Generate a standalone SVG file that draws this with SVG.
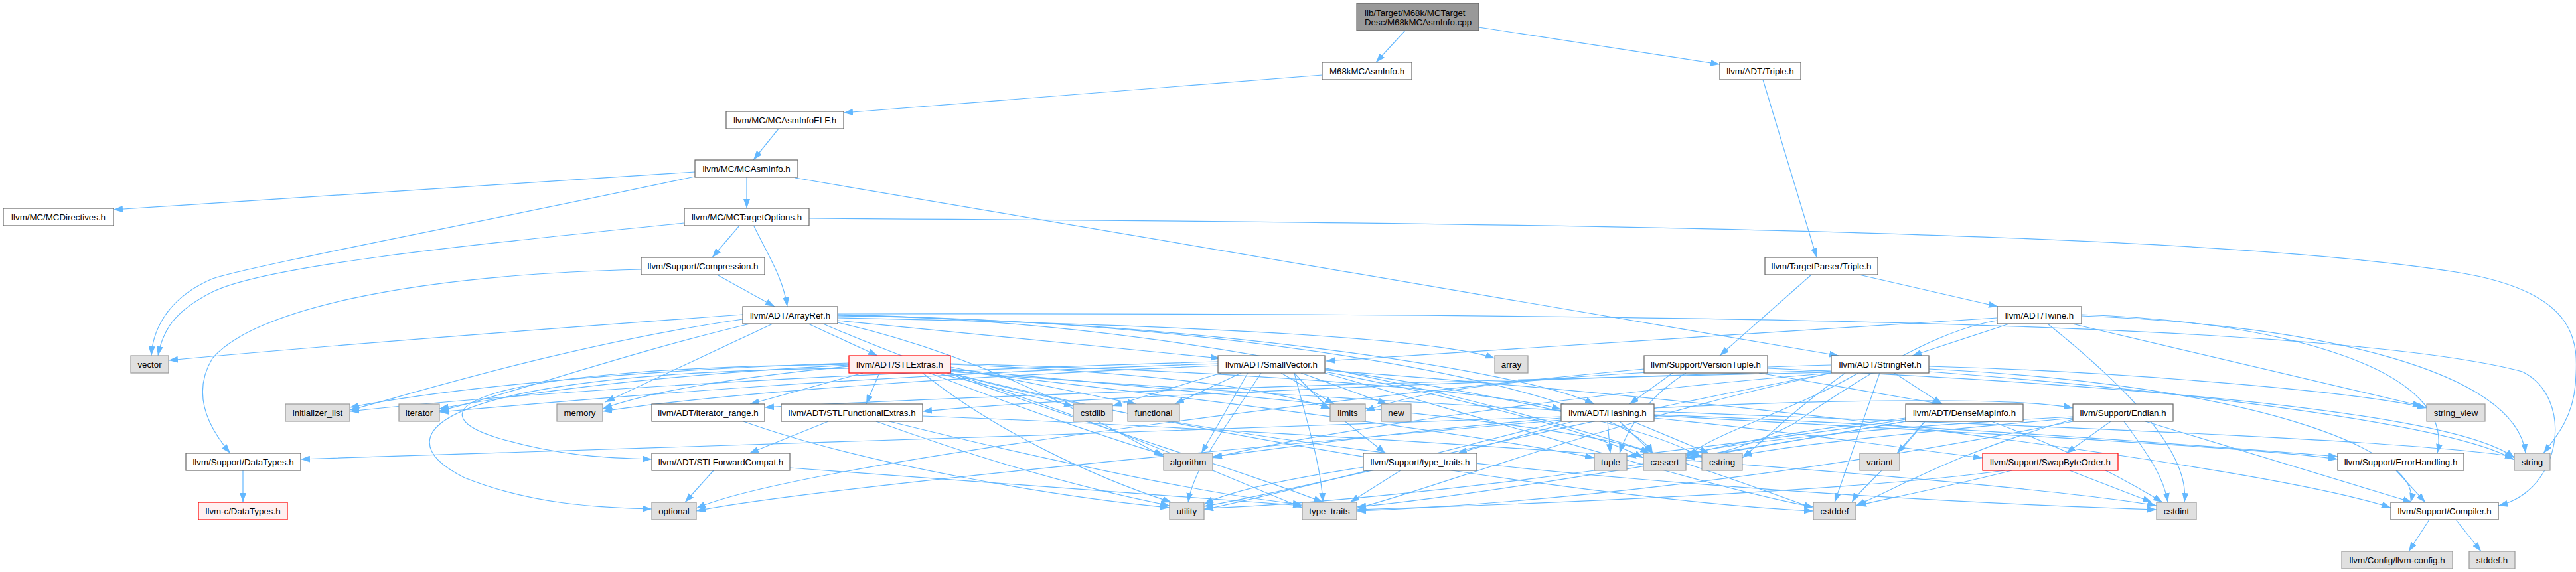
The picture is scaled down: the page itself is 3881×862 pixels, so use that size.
<svg xmlns="http://www.w3.org/2000/svg" width="3881" height="862" viewBox="0 0 3881 862">
<style>
.e{fill:none;stroke:#63b8ff;stroke-width:1.2;marker-end:url(#a)}
.n rect{fill:#ffffff;stroke:#666666;stroke-width:1.2}
.g rect{fill:#e0e0e0;stroke:#999999;stroke-width:1.2}
.r rect{fill:#fff0f0;stroke:#ff0000;stroke-width:1.2}
.k rect{fill:#999999;stroke:#666666;stroke-width:1.2}
text{font-family:"Liberation Sans",Arial,Helvetica,sans-serif;font-size:13.3px;fill:#000;text-anchor:middle}
</style>
<defs>
<marker id="a" markerUnits="userSpaceOnUse" markerWidth="14" markerHeight="10" refX="14" refY="5" orient="auto">
<path d="M0,0 L14,5 L0,10 z" fill="#63b8ff"/>
</marker>
</defs>
<rect width="3881" height="862" fill="#ffffff"/>
<g id="edges">
<path class="e" d="M2117,46 L2073,94"/>
<path class="e" d="M2228,41 L2591,97"/>
<path class="e" d="M1992,113 L1271,170"/>
<path class="e" d="M1173,194 L1135,241"/>
<path class="e" d="M1047,259 L171,316"/>
<path class="e" d="M1047,266 C700,340 380,400 320,420 C250,450 230,500 228,536"/>
<path class="e" d="M1125,267 L1125,314"/>
<path class="e" d="M1198,268 L2770,536"/>
<path class="e" d="M1031,336 C700,370 400,400 320,440 C260,470 245,500 238,536"/>
<path class="e" d="M1114,340 L1073,388"/>
<path class="e" d="M1136,341 C1160,390 1180,420 1186,462"/>
<path class="e" d="M1219,329 C2200,335 3300,345 3700,410 C3890,440 3885,520 3880,580 C3876,630 3850,660 3832,683"/>
<path class="e" d="M1082,415 L1167,462"/>
<path class="e" d="M966,406 C600,415 380,470 320,540 C290,590 310,640 347,683"/>
<path class="e" d="M2656,120 L2737,388"/>
<path class="e" d="M2729,414 L2591,536"/>
<path class="e" d="M2801,414 L3010,462"/>
<path class="e" d="M3009,479 L1998,544"/>
<path class="e" d="M3027,488 L2881,536"/>
<path class="e" d="M3122,488 L3649,612"/>
<path class="e" d="M3009,483 C2900,500 2760,600 2700,640 C2620,680 2570,688 2540,690"/>
<path class="e" d="M3085,488 C3200,580 3300,680 3291,757"/>
<path class="e" d="M3136,476 C3500,490 3790,560 3805,683"/>
<path class="e" d="M3136,474 C3450,485 3700,560 3672,683"/>
<path class="e" d="M2650,562 L2925,609"/>
<path class="e" d="M2520,562 L2455,609"/>
<path class="e" d="M2477,556 C2000,600 1200,700 1049,766"/>
<path class="e" d="M2663,555 C3200,580 3700,620 3788,690"/>
<path class="e" d="M2540,562 C2480,600 2450,650 2440,683"/>
<path class="e" d="M2854,562 L2926,609"/>
<path class="e" d="M2759,558 C2200,575 1600,600 1390,620"/>
<path class="e" d="M2759,561 C2100,575 1500,595 1152,614"/>
<path class="e" d="M2906,556 C3400,580 3650,680 3632,757"/>
<path class="e" d="M2759,562 C2300,600 1950,660 1827,690"/>
<path class="e" d="M2800,562 C2700,620 2560,660 2540,692"/>
<path class="e" d="M2832,562 L2764,757"/>
<path class="e" d="M2780,562 C2700,620 2650,670 2625,690"/>
<path class="e" d="M2759,550 C2400,560 2150,580 2057,620"/>
<path class="e" d="M2906,560 C3300,590 3700,640 3788,693"/>
<path class="e" d="M2906,552 C3200,560 3550,590 3656,615"/>
<path class="e" d="M2759,562 C2400,640 2150,740 2044,766"/>
<path class="e" d="M2759,562 C2300,650 1950,740 1814,763"/>
<path class="e" d="M1262,476 C1800,482 2300,560 2402,609"/>
<path class="e" d="M1262,483 L1838,540"/>
<path class="e" d="M1218,488 L1322,536"/>
<path class="e" d="M1262,473 C2400,472 3500,480 3800,560 C3880,600 3860,740 3764,762"/>
<path class="e" d="M1262,486 C1500,540 1680,650 1753,688"/>
<path class="e" d="M1262,479 C1700,488 2150,505 2252,540"/>
<path class="e" d="M1262,475 C1900,485 2440,590 2490,683"/>
<path class="e" d="M1262,474 C2000,490 2550,700 2732,766"/>
<path class="e" d="M1119,481 C850,520 600,600 527,618"/>
<path class="e" d="M1130,488 C950,530 750,600 662,619"/>
<path class="e" d="M1164,488 L912,606"/>
<path class="e" d="M1240,488 C1500,600 1850,700 1993,757"/>
<path class="e" d="M1119,474 C900,490 500,520 254,543"/>
<path class="e" d="M1279,549 C700,555 620,620 750,660 C850,690 930,690 982,692"/>
<path class="e" d="M1325,562 L1305,609"/>
<path class="e" d="M1300,562 L1130,609"/>
<path class="e" d="M1432,548 C1900,560 2250,590 2352,617"/>
<path class="e" d="M1432,560 C2200,620 3300,660 3522,692"/>
<path class="e" d="M1400,562 C1550,620 1700,670 1753,685"/>
<path class="e" d="M1432,556 C1900,600 2400,640 2485,683"/>
<path class="e" d="M1432,562 C1900,680 2500,760 2732,770"/>
<path class="e" d="M1432,562 C2000,720 3000,760 3249,768"/>
<path class="e" d="M1410,562 L1617,612"/>
<path class="e" d="M1432,553 L1712,609"/>
<path class="e" d="M1279,547 C900,560 650,590 527,614"/>
<path class="e" d="M1279,550 C1000,565 800,590 662,616"/>
<path class="e" d="M1432,549 C1700,560 1900,580 2004,616"/>
<path class="e" d="M1279,552 C1100,570 980,590 908,616"/>
<path class="e" d="M1279,555 C680,560 560,650 700,720 C800,760 900,765 982,767"/>
<path class="e" d="M1432,558 C1800,600 2200,650 2402,690"/>
<path class="e" d="M1432,562 C1700,650 1850,720 1962,765"/>
<path class="e" d="M1390,562 C1500,650 1650,720 1765,757"/>
<path class="e" d="M1996,558 C2600,600 3400,700 3602,765"/>
<path class="e" d="M1950,562 C2000,620 2060,660 2087,683"/>
<path class="e" d="M1880,562 L1810,683"/>
<path class="e" d="M1996,560 C2200,600 2400,650 2476,690"/>
<path class="e" d="M1996,562 C2300,650 2600,740 2732,764"/>
<path class="e" d="M1840,562 L1676,612"/>
<path class="e" d="M1996,556 C2300,600 2500,650 2564,690"/>
<path class="e" d="M1870,562 L1770,609"/>
<path class="e" d="M1835,545 C1300,560 800,590 527,620"/>
<path class="e" d="M1835,548 C1300,565 900,600 662,621"/>
<path class="e" d="M1930,562 L2010,609"/>
<path class="e" d="M1835,551 C1500,565 1100,590 908,620"/>
<path class="e" d="M1960,562 L2090,609"/>
<path class="e" d="M1950,562 C1970,640 1990,700 1993,757"/>
<path class="e" d="M1900,562 C1850,640 1800,700 1790,757"/>
<path class="e" d="M2352,628 C1800,650 800,680 453,692"/>
<path class="e" d="M2492,625 C2900,640 3300,670 3522,688"/>
<path class="e" d="M2492,630 C2700,650 2900,680 2987,690"/>
<path class="e" d="M2370,635 L2196,683"/>
<path class="e" d="M2352,630 C2100,650 1900,680 1827,688"/>
<path class="e" d="M2440,635 L2490,683"/>
<path class="e" d="M2460,635 L2575,683"/>
<path class="e" d="M2352,633 C1800,680 1200,740 1049,770"/>
<path class="e" d="M2492,620 C3000,640 3600,660 3788,688"/>
<path class="e" d="M2422,635 L2426,683"/>
<path class="e" d="M2352,635 C2100,700 1900,750 1814,768"/>
<path class="e" d="M2492,615 C2800,600 3050,600 3123,615"/>
<path class="e" d="M2871,630 C2700,650 2600,670 2540,686"/>
<path class="e" d="M2900,635 C2850,700 2800,740 2790,757"/>
<path class="e" d="M3000,635 C3150,690 3230,740 3258,757"/>
<path class="e" d="M2871,632 C2700,660 2500,680 2451,688"/>
<path class="e" d="M2871,635 C2500,700 2200,750 2044,764"/>
<path class="e" d="M2871,635 C2400,720 2000,760 1814,766"/>
<path class="e" d="M2900,635 L2858,683"/>
<path class="e" d="M3232,635 L3634,757"/>
<path class="e" d="M3180,635 L3113,683"/>
<path class="e" d="M3123,628 C2900,640 2650,660 2540,684"/>
<path class="e" d="M3123,632 C2950,680 2850,740 2796,762"/>
<path class="e" d="M3200,635 C3240,690 3260,720 3266,757"/>
<path class="e" d="M3123,630 C2900,650 2700,670 2625,686"/>
<path class="e" d="M3123,635 C2700,720 2300,760 2044,770"/>
<path class="e" d="M3118,709 L3242,757"/>
<path class="e" d="M3031,709 C2950,730 2850,750 2798,762"/>
<path class="e" d="M3020,709 C2800,740 2300,760 2044,768"/>
<path class="e" d="M3610,709 L3654,757"/>
<path class="e" d="M3660,783 L3629,831"/>
<path class="e" d="M3700,783 L3738,831"/>
<path class="e" d="M2110,709 L2034,757"/>
<path class="e" d="M2054,704 C1950,720 1850,740 1814,760"/>
<path class="e" d="M1075,709 L1032,757"/>
<path class="e" d="M1190,705 C1500,730 1800,750 1962,762"/>
<path class="e" d="M1248,635 L1129,683"/>
<path class="e" d="M1390,627 C2000,650 3000,720 3249,762"/>
<path class="e" d="M1340,635 C1600,700 1850,750 1962,760"/>
<path class="e" d="M1320,635 C1500,700 1650,740 1762,762"/>
<path class="e" d="M1120,635 C1300,700 1600,750 1762,765"/>
<path class="e" d="M366,709 L366,757"/>
</g>
<g id="n0" class="k"><rect x="2044" y="5" width="184" height="41"/><text x="2056" y="23.5" style="text-anchor:start">lib/Target/M68k/MCTarget</text><text x="2056" y="38" style="text-anchor:start">Desc/M68kMCAsmInfo.cpp</text></g>
<g id="n1" class="n"><rect x="1992" y="94" width="135" height="26"/><text x="2059.5" y="111.5">M68kMCAsmInfo.h</text></g>
<g id="n2" class="n"><rect x="2591" y="94" width="122" height="26"/><text x="2652" y="111.5">llvm/ADT/Triple.h</text></g>
<g id="n3" class="n"><rect x="1094" y="168" width="177" height="26"/><text x="1182.5" y="185.5">llvm/MC/MCAsmInfoELF.h</text></g>
<g id="n4" class="n"><rect x="1047" y="241" width="155" height="26"/><text x="1124.5" y="258.5">llvm/MC/MCAsmInfo.h</text></g>
<g id="n5" class="n"><rect x="5" y="314" width="166" height="26"/><text x="88" y="331.5">llvm/MC/MCDirectives.h</text></g>
<g id="n6" class="n"><rect x="1031" y="314" width="188" height="26"/><text x="1125" y="331.5">llvm/MC/MCTargetOptions.h</text></g>
<g id="n7" class="n"><rect x="966" y="388" width="186" height="26"/><text x="1059" y="405.5">llvm/Support/Compression.h</text></g>
<g id="n8" class="n"><rect x="2659" y="388" width="170" height="26"/><text x="2744" y="405.5">llvm/TargetParser/Triple.h</text></g>
<g id="n9" class="n"><rect x="1119" y="462" width="143" height="26"/><text x="1190.5" y="479.5">llvm/ADT/ArrayRef.h</text></g>
<g id="n10" class="n"><rect x="3009" y="462" width="127" height="26"/><text x="3072.5" y="479.5">llvm/ADT/Twine.h</text></g>
<g id="n11" class="g"><rect x="197" y="536" width="57" height="26"/><text x="225.5" y="553.5">vector</text></g>
<g id="n12" class="r"><rect x="1279" y="536" width="153" height="26"/><text x="1355.5" y="553.5">llvm/ADT/STLExtras.h</text></g>
<g id="n13" class="n"><rect x="1835" y="536" width="161" height="26"/><text x="1915.5" y="553.5">llvm/ADT/SmallVector.h</text></g>
<g id="n14" class="g"><rect x="2252" y="536" width="50" height="26"/><text x="2277" y="553.5">array</text></g>
<g id="n15" class="n"><rect x="2477" y="536" width="186" height="26"/><text x="2570" y="553.5">llvm/Support/VersionTuple.h</text></g>
<g id="n16" class="n"><rect x="2759" y="536" width="147" height="26"/><text x="2832.5" y="553.5">llvm/ADT/StringRef.h</text></g>
<g id="n17" class="g"><rect x="430" y="609" width="97" height="26"/><text x="478.5" y="626.5">initializer_list</text></g>
<g id="n18" class="g"><rect x="601" y="609" width="61" height="26"/><text x="631.5" y="626.5">iterator</text></g>
<g id="n19" class="g"><rect x="839" y="609" width="69" height="26"/><text x="873.5" y="626.5">memory</text></g>
<g id="n20" class="n"><rect x="982" y="609" width="170" height="26"/><text x="1067" y="626.5">llvm/ADT/iterator_range.h</text></g>
<g id="n21" class="n"><rect x="1177" y="609" width="213" height="26"/><text x="1283.5" y="626.5">llvm/ADT/STLFunctionalExtras.h</text></g>
<g id="n22" class="g"><rect x="1617" y="609" width="59" height="26"/><text x="1646.5" y="626.5">cstdlib</text></g>
<g id="n23" class="g"><rect x="1699" y="609" width="78" height="26"/><text x="1738" y="626.5">functional</text></g>
<g id="n24" class="g"><rect x="2004" y="609" width="53" height="26"/><text x="2030.5" y="626.5">limits</text></g>
<g id="n25" class="g"><rect x="2081" y="609" width="45" height="26"/><text x="2103.5" y="626.5">new</text></g>
<g id="n26" class="n"><rect x="2352" y="609" width="140" height="26"/><text x="2422" y="626.5">llvm/ADT/Hashing.h</text></g>
<g id="n27" class="n"><rect x="2871" y="609" width="177" height="26"/><text x="2959.5" y="626.5">llvm/ADT/DenseMapInfo.h</text></g>
<g id="n28" class="n"><rect x="3123" y="609" width="151" height="26"/><text x="3198.5" y="626.5">llvm/Support/Endian.h</text></g>
<g id="n29" class="g"><rect x="3656" y="609" width="88" height="26"/><text x="3700" y="626.5">string_view</text></g>
<g id="n30" class="n"><rect x="280" y="683" width="173" height="26"/><text x="366.5" y="700.5">llvm/Support/DataTypes.h</text></g>
<g id="n31" class="n"><rect x="982" y="683" width="208" height="26"/><text x="1086" y="700.5">llvm/ADT/STLForwardCompat.h</text></g>
<g id="n32" class="g"><rect x="1753" y="683" width="74" height="26"/><text x="1790" y="700.5">algorithm</text></g>
<g id="n33" class="n"><rect x="2054" y="683" width="171" height="26"/><text x="2139.5" y="700.5">llvm/Support/type_traits.h</text></g>
<g id="n34" class="g"><rect x="2402" y="683" width="49" height="26"/><text x="2426.5" y="700.5">tuple</text></g>
<g id="n35" class="g"><rect x="2476" y="683" width="64" height="26"/><text x="2508" y="700.5">cassert</text></g>
<g id="n36" class="g"><rect x="2564" y="683" width="61" height="26"/><text x="2594.5" y="700.5">cstring</text></g>
<g id="n37" class="g"><rect x="2802" y="683" width="60" height="26"/><text x="2832" y="700.5">variant</text></g>
<g id="n38" class="r"><rect x="2987" y="683" width="204" height="26"/><text x="3089" y="700.5">llvm/Support/SwapByteOrder.h</text></g>
<g id="n39" class="n"><rect x="3522" y="683" width="190" height="26"/><text x="3617" y="700.5">llvm/Support/ErrorHandling.h</text></g>
<g id="n40" class="g"><rect x="3788" y="683" width="54" height="26"/><text x="3815" y="700.5">string</text></g>
<g id="n41" class="r"><rect x="299" y="757" width="134" height="26"/><text x="366" y="774.5">llvm-c/DataTypes.h</text></g>
<g id="n42" class="g"><rect x="982" y="757" width="67" height="26"/><text x="1015.5" y="774.5">optional</text></g>
<g id="n43" class="g"><rect x="1762" y="757" width="52" height="26"/><text x="1788" y="774.5">utility</text></g>
<g id="n44" class="g"><rect x="1962" y="757" width="82" height="26"/><text x="2003" y="774.5">type_traits</text></g>
<g id="n45" class="g"><rect x="2732" y="757" width="64" height="26"/><text x="2764" y="774.5">cstddef</text></g>
<g id="n46" class="g"><rect x="3249" y="757" width="60" height="26"/><text x="3279" y="774.5">cstdint</text></g>
<g id="n47" class="n"><rect x="3602" y="757" width="162" height="26"/><text x="3683" y="774.5">llvm/Support/Compiler.h</text></g>
<g id="n48" class="g"><rect x="3528" y="831" width="167" height="26"/><text x="3611.5" y="848.5">llvm/Config/llvm-config.h</text></g>
<g id="n49" class="g"><rect x="3720" y="831" width="69" height="26"/><text x="3754.5" y="848.5">stddef.h</text></g>
</svg>
